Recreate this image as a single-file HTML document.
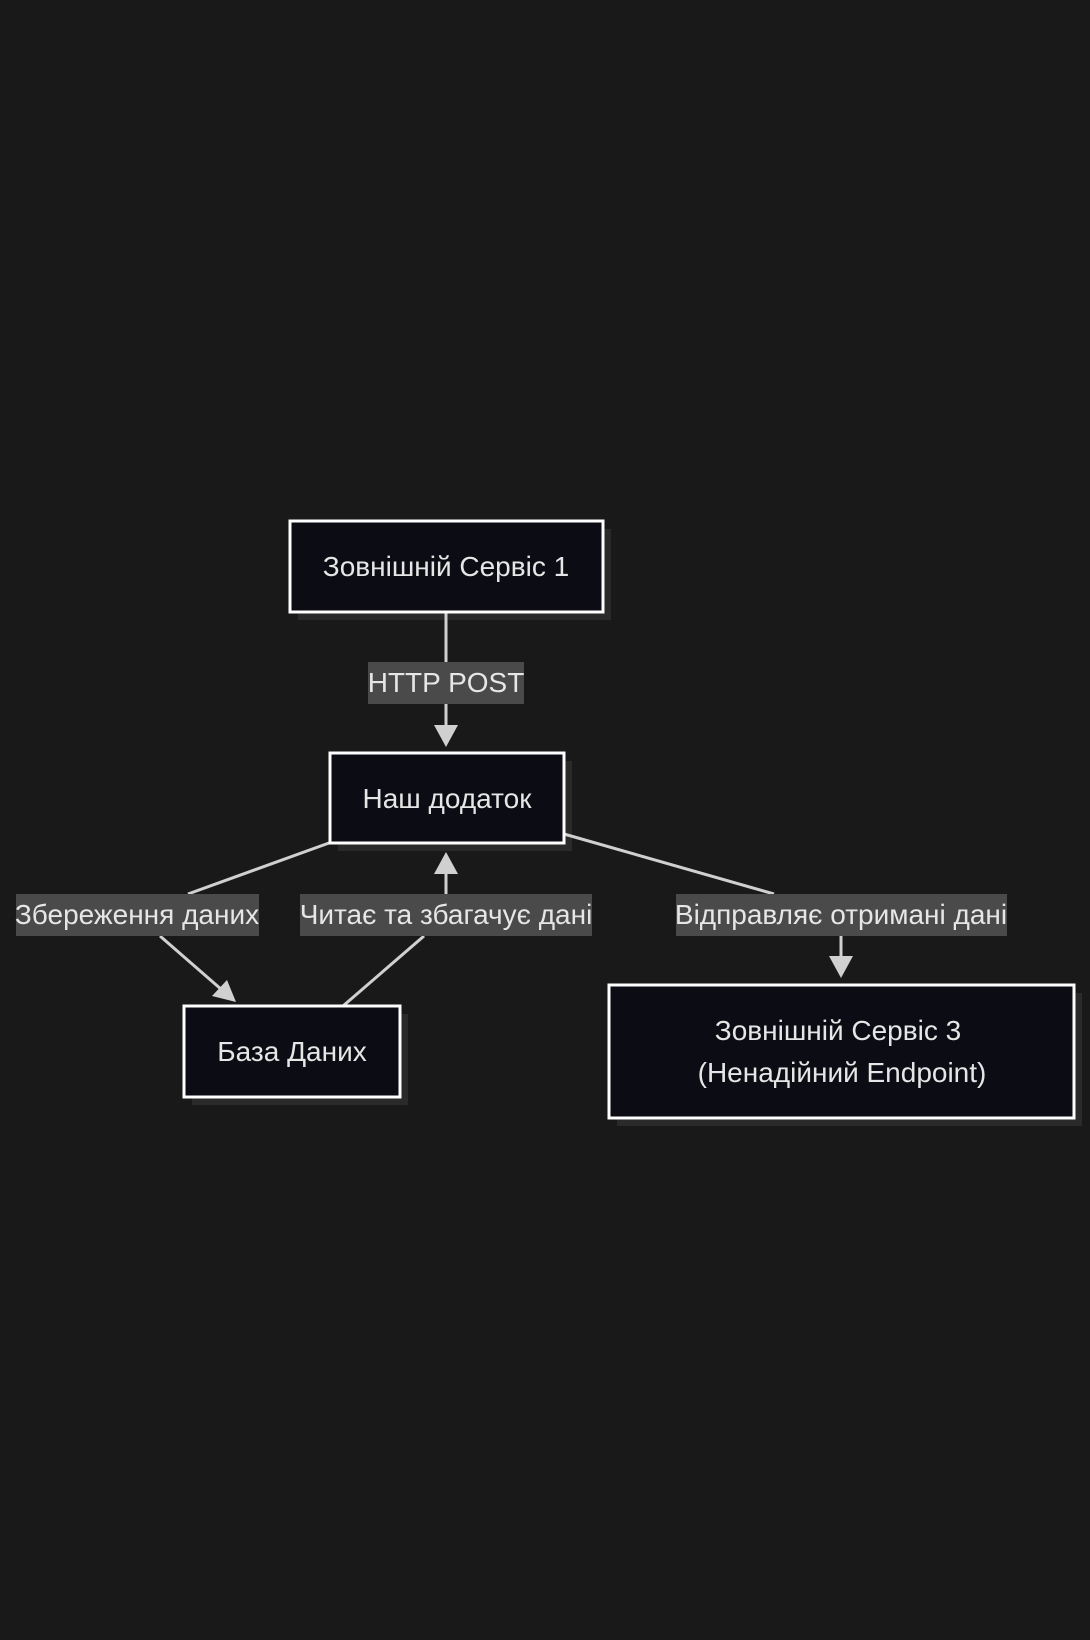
<!DOCTYPE html>
<html><head><meta charset="utf-8"><style>
html,body{margin:0;padding:0;background:#19191a;}
svg{display:block;}
text{font-family:"Liberation Sans",sans-serif;fill:#e6e6e6;}
</style></head><body>
<svg width="1090" height="1640" viewBox="0 0 1090 1640" xmlns="http://www.w3.org/2000/svg">
<rect width="1090" height="1640" fill="#19191a"/>
<g fill="#2a2a2b">
<rect x="298" y="529" width="313" height="91"/>
<rect x="338" y="761" width="234" height="90"/>
<rect x="192" y="1014" width="216" height="91"/>
<rect x="617" y="993" width="465" height="133"/>
</g>
<g stroke="#d0d0d0" stroke-width="3" fill="none">
<line x1="446" y1="612" x2="446" y2="728"/>
<line x1="329" y1="843" x2="188" y2="894"/>
<line x1="160" y1="936" x2="222" y2="990"/>
<line x1="343" y1="1006" x2="424" y2="936"/>
<line x1="446" y1="894" x2="446" y2="870"/>
<line x1="564" y1="834" x2="774" y2="894"/>
<line x1="841" y1="936" x2="841" y2="958"/>
</g>
<g fill="#d0d0d0">
<polygon points="446,747 434,725 458,725"/>
<polygon points="446,852 434,874 458,874"/>
<polygon points="841,978 829,956 853,956"/>
<polygon points="236,1002 212,996 227,980"/>
</g>
<g fill="#0c0d14" stroke="#ffffff" stroke-width="3">
<rect x="290" y="521" width="313" height="91"/>
<rect x="330" y="753" width="234" height="90"/>
<rect x="184" y="1006" width="216" height="91"/>
<rect x="609" y="985" width="465" height="133"/>
</g>
<g font-size="28" text-anchor="middle">
<text x="446" y="576">Зовнішній Сервіс 1</text>
<text x="447" y="808">Наш додаток</text>
<text x="292" y="1061">База Даних</text>
<text x="838" y="1040">Зовнішній Сервіс 3</text>
<text x="842" y="1082">(Ненадійний Endpoint)</text>
</g>
<g fill="#4a4a4a">
<rect x="368" y="662" width="156" height="42"/>
<rect x="16" y="894" width="243" height="42"/>
<rect x="300" y="894" width="292" height="42"/>
<rect x="676" y="894" width="331" height="42"/>
</g>
<g font-size="28" text-anchor="middle">
<text x="446" y="692">HTTP POST</text>
<text x="137" y="924">Збереження даних</text>
<text x="446" y="924">Читає та збагачує дані</text>
<text x="841" y="924">Відправляє отримані дані</text>
</g>
</svg>
</body></html>
